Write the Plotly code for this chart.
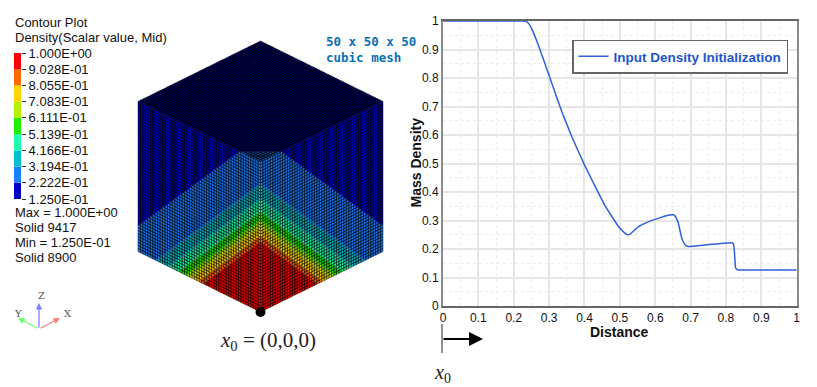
import numpy as np
import plotly.graph_objects as go

# ---------- line chart data ----------
distance = [0, 0.1, 0.2, 0.225, 0.235, 0.243, 0.25, 0.262, 0.274, 0.3025, 0.335, 0.364, 0.40, 0.434, 0.458, 0.496, 0.516,
            0.522, 0.529, 0.54, 0.552, 0.572, 0.60, 0.64, 0.652, 0.659, 0.665, 0.676, 0.685, 0.693, 0.70, 0.741, 0.816, 0.821, 0.824,
            0.827, 0.832, 0.85, 1.0]
density = [1, 1, 1, 1, 0.999, 0.99, 0.975, 0.94, 0.90, 0.80, 0.685, 0.595, 0.495, 0.41, 0.352, 0.279, 0.254,
           0.25, 0.2525, 0.265, 0.278, 0.291, 0.304, 0.319, 0.32, 0.31, 0.292, 0.234, 0.214, 0.209, 0.209, 0.214, 0.222, 0.218, 0.19,
           0.135, 0.127, 0.126, 0.126]
series_name = "Input Density Initialization"
x_title = "Distance"
y_title = "Mass Density"
axis_ticks = [0, 0.1, 0.2, 0.3, 0.4, 0.5, 0.6, 0.7, 0.8, 0.9, 1]
axis_labels = ["0", "0.1", "0.2", "0.3", "0.4", "0.5", "0.6", "0.7", "0.8", "0.9", "1"]

# ---------- contour legend data ----------
contour_levels = [0.125, 0.2222, 0.3194, 0.4166, 0.5139, 0.6111, 0.7083, 0.8055, 0.9028, 1.0]
contour_labels = ["1.250E-01", "2.222E-01", "3.194E-01", "4.166E-01", "5.139E-01",
                  "6.111E-01", "7.083E-01", "8.055E-01", "9.028E-01", "1.000E+00"]
contour_colors = ["#0000c8", "#1a7fff", "#00c0d0", "#1fffb0", "#22ee00",
                  "#b4f000", "#ffd500", "#ff6a00", "#ff0000"]
# x+y+z (unit cube) at which each band of the mesh ends; same order reversed
band_limits = [0.475, 0.52, 0.57, 0.615, 0.675, 0.75, 0.85, 1.18, 9.0]
info_lines = ["Max = 1.000E+00", "Solid 9417", "Min = 1.250E-01", "Solid 8900"]
n_cells = 50

FONT = "Liberation Sans, Arial, sans-serif"
W, H = 817, 387
BX, BY, UX, UY, VY = 260.5, 312.0, 122.5, 60.5, 150.0


def project(a, b, c):
    """Unit-cube coordinates (a to the right, b to the left, c up) to picture axes."""
    return BX + UX * (a - b), BY - UY * (a + b) - VY * c


def shade(hex_color, f):
    r, g, b = int(hex_color[1:3], 16), int(hex_color[3:5], 16), int(hex_color[5:7], 16)
    return "rgb(%d,%d,%d)" % (r * f, g * f, b * f)


fig = go.Figure()

# curve
fig.add_trace(go.Scatter(x=distance, y=density, mode="lines", name=series_name,
                         line=dict(color="#3060d8", width=1.5, shape="spline", smoothing=0.3), hoverinfo="skip"))

# mesh: three visible cube faces, one trace per band and face
faces = [("left", 0.95), ("right", 0.95), ("top", 0.55)]
h = 1.0 / n_cells
for face, f in faces:
    xs = {i: [] for i in range(9)}
    ys = {i: [] for i in range(9)}
    for i in range(n_cells):
        for j in range(n_cells):
            p, q = i * h, j * h
            s = p + q + h + (1.0 if face == "top" else 0.0)
            band = next(k for k, lim in enumerate(band_limits) if s < lim)
            if face == "left":
                corners = [(0, p, q), (0, p + h, q), (0, p + h, q + h), (0, p, q + h)]
            elif face == "right":
                corners = [(p, 0, q), (p + h, 0, q), (p + h, 0, q + h), (p, 0, q + h)]
            else:
                corners = [(p, q, 1), (p + h, q, 1), (p + h, q + h, 1), (p, q + h, 1)]
            corners.append(corners[0])
            for c in corners:
                X, Y = project(*c)
                xs[band].append(round(X, 2))
                ys[band].append(round(Y, 2))
            xs[band].append(None)
            ys[band].append(None)
    for k in range(9):
        if xs[k]:
            fig.add_trace(go.Scatter(
                x=xs[k], y=ys[k], xaxis="x2", yaxis="y2", mode="lines", fill="toself",
                fillcolor=shade(contour_colors[8 - k], f),
                line=dict(color="rgba(0,0,0,0.68)", width=0.65),
                hoverinfo="skip", showlegend=False))

# origin dot
ox, oy = project(0, 0, 0)
fig.add_trace(go.Scatter(x=[ox], y=[oy], xaxis="x2", yaxis="y2", mode="markers",
                         marker=dict(color="black", size=10), showlegend=False, hoverinfo="skip"))

# triad
for (x1, y1, col) in [(39, 303, "#8080ff"), (18, 318, "#70ff70"), (60, 318, "#ff8080")]:
    fig.add_annotation(x=x1, y=y1, ax=39, ay=329, xref="x2", yref="y2", axref="x2", ayref="y2",
                       text="", showarrow=True, arrowhead=2, arrowsize=1, arrowwidth=1.3, arrowcolor=col)
for (tx, ty, t) in [(41.5, 295, "Z"), (18, 313, "Y"), (67.5, 313, "X")]:
    fig.add_annotation(x=tx, y=ty, xref="x2", yref="y2", text=t, showarrow=False,
                       font=dict(family="DejaVu Serif", size=10, color="#555555"))

# colour bar
fig.add_trace(go.Bar(
    x=[0.5] * 9, y=np.diff(contour_levels).tolist(), base=contour_levels[:-1], width=1,
    xaxis="x3", yaxis="y3", marker=dict(color=contour_colors, line=dict(width=0)),
    showlegend=False, hoverinfo="skip"))


def txt(x, y, t, size=13, color="#111111", family=FONT, anchor="left", weight=None, angle=0):
    fig.add_annotation(x=x, y=y, xref="x2", yref="y2", text=t, showarrow=False, xanchor=anchor,
                       yanchor="middle", textangle=angle, font=dict(family=family, size=size, color=color, weight=weight))


txt(12.5, 22, "Contour Plot")
txt(12.5, 37.5, "Density(Scalar value, Mid)")
for ypos, line in zip([212, 227, 242, 257], info_lines):
    txt(12.5, ypos, line)
txt(324, 41, "50 x 50 x 50", size=12.5, color="#0a70b8", family="DejaVu Sans Mono", weight="bold")
txt(324, 57, "cubic mesh", size=12.5, color="#0a70b8", family="DejaVu Sans Mono", weight="bold")
txt(218, 341, "<i>x</i><sub>0</sub> = (0,0,0)", size=21, color="#222222", family="Liberation Serif")
txt(432, 373, "<i>x</i><sub>0</sub>", size=20, color="#222222", family="Liberation Serif")
txt(619.5, 332, x_title, size=14, weight="bold", anchor="center")
txt(415.5, 163, y_title, size=14, weight="bold", anchor="center", angle=-90)

# reference arrow below the plot
fig.add_trace(go.Scatter(x=[442, 442], y=[324, 353], xaxis="x2", yaxis="y2", mode="lines",
                         line=dict(color="#222222", width=1), showlegend=False, hoverinfo="skip"))
fig.add_annotation(x=483, y=339, ax=442, ay=339, xref="x2", yref="y2", axref="x2", ayref="y2", text="",
                   showarrow=True, arrowhead=2, arrowsize=1.4, arrowwidth=2, arrowcolor="black")

frame = "#8a8a8a"
major = "#e6e6e6"
minor = dict(dtick=0.05, showgrid=True, gridcolor="#eeeeee", griddash="dot", gridwidth=1, ticks="")
fig.update_layout(
    width=W, height=H, margin=dict(l=0, r=0, t=0, b=0), paper_bgcolor="white", plot_bgcolor="rgba(0,0,0,0)",
    barmode="overlay",
    font=dict(family=FONT, color="#111111", size=12),
    xaxis=dict(domain=[443 / W, 796.7 / W], range=[0, 1], tickvals=axis_ticks, ticktext=axis_labels, automargin=False,
               tickfont=dict(size=12), ticklen=0, ticks="", showgrid=True, gridcolor=major, gridwidth=1.5,
               zeroline=False, showline=True, linecolor="#666666", linewidth=1.5, mirror=True, minor=minor),
    yaxis=dict(domain=[1 - 306 / H, 1 - 21 / H], range=[0, 1], tickvals=axis_ticks, ticktext=axis_labels, automargin=False,
               tickfont=dict(size=12), ticklen=0, ticks="", showgrid=True, gridcolor=major, gridwidth=1.5,
               zeroline=False, showline=True, linecolor=frame, linewidth=2, mirror=True, minor=minor),
    xaxis2=dict(domain=[0, 1], range=[0, W], visible=False, anchor="y2", fixedrange=True, automargin=False),
    yaxis2=dict(domain=[0, 1], range=[H, 0], visible=False, anchor="x2", fixedrange=True, automargin=False),
    xaxis3=dict(domain=[14 / W, 21 / W], range=[0, 1], visible=False, anchor="y3", automargin=False),
    yaxis3=dict(domain=[1 - 199 / H, 1 - 53 / H], range=[0.125, 1], anchor="x3", side="right", automargin=False,
                tickvals=contour_levels, ticktext=contour_labels, ticks="outside", ticklen=4, tickwidth=1,
                tickcolor="#333333", showgrid=False, zeroline=False, showline=False,
                tickfont=dict(size=13, color="#111111")),
    showlegend=True,
    legend=dict(x=572 / W, y=1 - 39.5 / H, xanchor="left", yanchor="top", bgcolor="white",
                bordercolor="#666666", borderwidth=1.5, font=dict(size=13.5, color="#2255cc", family=FONT, weight="bold"),
                itemwidth=30),
)

fig.write_html("out.html", config={"displayModeBar": False},
               post_script="document.body.style.margin='0';document.body.style.overflow='hidden';")
